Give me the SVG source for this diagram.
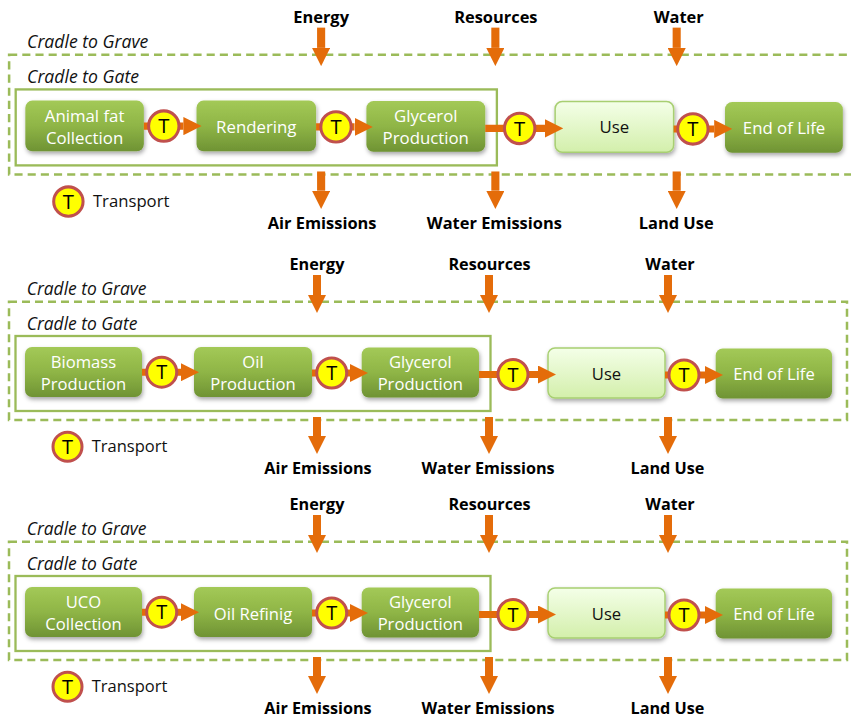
<svg xmlns="http://www.w3.org/2000/svg" width="851" height="719" viewBox="0 0 851 719">
  <defs>
    <linearGradient id="gStep" x1="0" y1="0" x2="0" y2="1">
      <stop offset="0" stop-color="#a3c957"/>
      <stop offset="0.5" stop-color="#8fb546"/>
      <stop offset="1" stop-color="#6f9334"/>
    </linearGradient>
    <linearGradient id="gUse" x1="0" y1="0" x2="0" y2="1">
      <stop offset="0" stop-color="#f4ffe8"/>
      <stop offset="1" stop-color="#d3efab"/>
    </linearGradient>
    <filter id="shadow" x="-10%" y="-15%" width="125%" height="150%">
      <feDropShadow dx="1" dy="2.5" stdDeviation="2" flood-color="#000" flood-opacity="0.35"/>
    </filter>
    <marker id="head" markerUnits="userSpaceOnUse" markerWidth="18" markerHeight="18" refX="0" refY="9" orient="auto" viewBox="0 0 18 18">
      <path d="M0,0 L18,9 L0,18 Z" fill="#e46c0a"/>
    </marker>
  </defs>
  <style>
    text { font-family: "Open Sans", "Noto Sans", "Liberation Sans", sans-serif; }
    .grave { fill: none; stroke: #9bbb59; stroke-width: 2.5; stroke-dasharray: 8 5; }
    .gate { fill: none; stroke: #9bbb59; stroke-width: 2.3; }
    .step { fill: url(#gStep); filter: url(#shadow); }
    .use { fill: url(#gUse); stroke: #a8cf72; stroke-width: 1.5; filter: url(#shadow); }
    .lbl { font-size: 16.6px; fill: #ffffff; text-anchor: middle; }
    .lbl.dark { fill: #111111; }
    .flow { font-size: 16.2px; font-weight: bold; fill: #000000; text-anchor: middle; }
    .scope { font-size: 17.4px; font-style: italic; fill: #111111; }
    .legend { font-size: 16.5px; fill: #111111; }
    .arrow { stroke: #e46c0a; stroke-width: 7; fill: none; marker-end: url(#head); }
    .io { stroke-width: 8; }
    .tc { fill: #ffff00; stroke: #c0504d; stroke-width: 3; }
    .tl { font-size: 20px; fill: #000000; text-anchor: middle; }
  </style>

  <!-- ===== Chain 1: animal fat ===== -->
  <g id="chain-animal-fat" transform="translate(0,2.3) scale(1.013)">
    <g id="scope-1">
      <rect class="grave" x="9" y="51.7" width="838" height="118.3"/>
      <text class="scope" x="26.7" y="45">Cradle to Grave</text>
      <rect class="gate" x="15.5" y="86" width="475" height="75"/>
      <text class="scope" x="26.7" y="80">Cradle to Gate</text>
    </g>
    <g id="flows-1">
      <text class="flow" x="317" y="20">Energy</text>
      <text class="flow" x="489.5" y="20">Resources</text>
      <text class="flow" x="670" y="20">Water</text>
      <line class="arrow io" x1="317" y1="25" x2="317" y2="45"/>
      <line class="arrow io" x1="489" y1="25" x2="489" y2="45"/>
      <line class="arrow io" x1="668" y1="25" x2="668" y2="45"/>
      <line class="arrow io" x1="317" y1="167" x2="317" y2="186"/>
      <line class="arrow io" x1="489" y1="167" x2="489" y2="186"/>
      <line class="arrow io" x1="668" y1="167" x2="668" y2="186"/>
      <text class="flow" x="318" y="224">Air Emissions</text>
      <text class="flow" x="488" y="224">Water Emissions</text>
      <text class="flow" x="667.5" y="224">Land Use</text>
    </g>
    <g id="n1-animal-fat">
      <rect class="step" x="25" y="97" width="117" height="50" rx="7"/>
      <text class="lbl" x="83.5" y="118.3">Animal fat</text>
      <text class="lbl" x="83.5" y="140.3">Collection</text>
    </g>
    <g id="n1-rendering">
      <rect class="step" x="194" y="97" width="118" height="50" rx="7"/>
      <text class="lbl" x="253" y="129.5">Rendering</text>
    </g>
    <g id="n1-glycerol">
      <rect class="step" x="361.7" y="97.5" width="117.3" height="50" rx="7"/>
      <text class="lbl" x="420.3" y="118.3">Glycerol</text>
      <text class="lbl" x="420.3" y="140.3">Production</text>
    </g>
    <g id="n1-use">
      <rect class="use" x="548" y="98" width="117" height="50" rx="7"/>
      <text class="lbl dark" x="606.5" y="129.5">Use</text>
    </g>
    <g id="n1-end-of-life">
      <rect class="step" x="715.7" y="98.5" width="116.3" height="50" rx="7"/>
      <text class="lbl" x="774" y="130">End of Life</text>
    </g>
    <g id="links-1">
      <line class="arrow" x1="142" y1="122.2" x2="181" y2="122.2"/>
      <line class="arrow" x1="312" y1="123" x2="350" y2="123"/>
      <line class="arrow" x1="479" y1="124.5" x2="538" y2="124.5"/>
      <line class="arrow" x1="665" y1="125" x2="705" y2="125"/>
    </g>
    <g id="t1-1"><circle class="tc" cx="161.7" cy="122.2" r="15"/><text class="tl" x="161.7" y="129.2">T</text></g>
    <g id="t1-2"><circle class="tc" cx="331.7" cy="123" r="15"/><text class="tl" x="331.7" y="130">T</text></g>
    <g id="t1-3"><circle class="tc" cx="513" cy="124.5" r="15"/><text class="tl" x="513" y="131.5">T</text></g>
    <g id="t1-4"><circle class="tc" cx="684" cy="125" r="15"/><text class="tl" x="684" y="132">T</text></g>
    <g id="legend-1">
      <circle class="tc" cx="67.5" cy="196.7" r="14.5"/>
      <text class="tl" x="67.5" y="203.7">T</text>
      <text class="legend" x="91.7" y="201.7">Transport</text>
    </g>
  </g>

  <!-- ===== Chain 2: biomass ===== -->
  <g id="chain-biomass" transform="translate(0,250)">
    <g id="scope-2">
      <rect class="grave" x="9" y="51.7" width="838" height="118.3"/>
      <text class="scope" x="26.7" y="45">Cradle to Grave</text>
      <rect class="gate" x="15.5" y="86" width="475" height="75"/>
      <text class="scope" x="26.7" y="80">Cradle to Gate</text>
    </g>
    <g id="flows-2">
      <text class="flow" x="317" y="20">Energy</text>
      <text class="flow" x="489.5" y="20">Resources</text>
      <text class="flow" x="670" y="20">Water</text>
      <line class="arrow io" x1="317" y1="25" x2="317" y2="45"/>
      <line class="arrow io" x1="489" y1="25" x2="489" y2="45"/>
      <line class="arrow io" x1="668" y1="25" x2="668" y2="45"/>
      <line class="arrow io" x1="317" y1="167" x2="317" y2="186"/>
      <line class="arrow io" x1="489" y1="167" x2="489" y2="186"/>
      <line class="arrow io" x1="668" y1="167" x2="668" y2="186"/>
      <text class="flow" x="318" y="224">Air Emissions</text>
      <text class="flow" x="488" y="224">Water Emissions</text>
      <text class="flow" x="667.5" y="224">Land Use</text>
    </g>
    <g id="n2-biomass">
      <rect class="step" x="25" y="97" width="117" height="50" rx="7"/>
      <text class="lbl" x="83.5" y="118.3">Biomass</text>
      <text class="lbl" x="83.5" y="140.3">Production</text>
    </g>
    <g id="n2-oil">
      <rect class="step" x="194" y="97" width="118" height="50" rx="7"/>
      <text class="lbl" x="253" y="118.3">Oil</text>
      <text class="lbl" x="253" y="140.3">Production</text>
    </g>
    <g id="n2-glycerol">
      <rect class="step" x="361.7" y="97.5" width="117.3" height="50" rx="7"/>
      <text class="lbl" x="420.3" y="118.3">Glycerol</text>
      <text class="lbl" x="420.3" y="140.3">Production</text>
    </g>
    <g id="n2-use">
      <rect class="use" x="548" y="98" width="117" height="50" rx="7"/>
      <text class="lbl dark" x="606.5" y="129.5">Use</text>
    </g>
    <g id="n2-end-of-life">
      <rect class="step" x="715.7" y="98.5" width="116.3" height="50" rx="7"/>
      <text class="lbl" x="774" y="130">End of Life</text>
    </g>
    <g id="links-2">
      <line class="arrow" x1="142" y1="122.2" x2="181" y2="122.2"/>
      <line class="arrow" x1="312" y1="123" x2="350" y2="123"/>
      <line class="arrow" x1="479" y1="124.5" x2="538" y2="124.5"/>
      <line class="arrow" x1="665" y1="125" x2="705" y2="125"/>
    </g>
    <g id="t2-1"><circle class="tc" cx="161.7" cy="122.2" r="15"/><text class="tl" x="161.7" y="129.2">T</text></g>
    <g id="t2-2"><circle class="tc" cx="331.7" cy="123" r="15"/><text class="tl" x="331.7" y="130">T</text></g>
    <g id="t2-3"><circle class="tc" cx="513" cy="124.5" r="15"/><text class="tl" x="513" y="131.5">T</text></g>
    <g id="t2-4"><circle class="tc" cx="684" cy="125" r="15"/><text class="tl" x="684" y="132">T</text></g>
    <g id="legend-2">
      <circle class="tc" cx="67.5" cy="196.7" r="14.5"/>
      <text class="tl" x="67.5" y="203.7">T</text>
      <text class="legend" x="91.7" y="201.7">Transport</text>
    </g>
  </g>

  <!-- ===== Chain 3: used cooking oil ===== -->
  <g id="chain-uco" transform="translate(0,490)">
    <g id="scope-3">
      <rect class="grave" x="9" y="51.7" width="838" height="118.3"/>
      <text class="scope" x="26.7" y="45">Cradle to Grave</text>
      <rect class="gate" x="15.5" y="86" width="475" height="75"/>
      <text class="scope" x="26.7" y="80">Cradle to Gate</text>
    </g>
    <g id="flows-3">
      <text class="flow" x="317" y="20">Energy</text>
      <text class="flow" x="489.5" y="20">Resources</text>
      <text class="flow" x="670" y="20">Water</text>
      <line class="arrow io" x1="317" y1="25" x2="317" y2="45"/>
      <line class="arrow io" x1="489" y1="25" x2="489" y2="45"/>
      <line class="arrow io" x1="668" y1="25" x2="668" y2="45"/>
      <line class="arrow io" x1="317" y1="167" x2="317" y2="186"/>
      <line class="arrow io" x1="489" y1="167" x2="489" y2="186"/>
      <line class="arrow io" x1="668" y1="167" x2="668" y2="186"/>
      <text class="flow" x="318" y="224">Air Emissions</text>
      <text class="flow" x="488" y="224">Water Emissions</text>
      <text class="flow" x="667.5" y="224">Land Use</text>
    </g>
    <g id="n3-uco">
      <rect class="step" x="25" y="97" width="117" height="50" rx="7"/>
      <text class="lbl" x="83.5" y="118.3">UCO</text>
      <text class="lbl" x="83.5" y="140.3">Collection</text>
    </g>
    <g id="n3-refining">
      <rect class="step" x="194" y="97" width="118" height="50" rx="7"/>
      <text class="lbl" x="253" y="129.5">Oil Refinig</text>
    </g>
    <g id="n3-glycerol">
      <rect class="step" x="361.7" y="97.5" width="117.3" height="50" rx="7"/>
      <text class="lbl" x="420.3" y="118.3">Glycerol</text>
      <text class="lbl" x="420.3" y="140.3">Production</text>
    </g>
    <g id="n3-use">
      <rect class="use" x="548" y="98" width="117" height="50" rx="7"/>
      <text class="lbl dark" x="606.5" y="129.5">Use</text>
    </g>
    <g id="n3-end-of-life">
      <rect class="step" x="715.7" y="98.5" width="116.3" height="50" rx="7"/>
      <text class="lbl" x="774" y="130">End of Life</text>
    </g>
    <g id="links-3">
      <line class="arrow" x1="142" y1="122.2" x2="181" y2="122.2"/>
      <line class="arrow" x1="312" y1="123" x2="350" y2="123"/>
      <line class="arrow" x1="479" y1="124.5" x2="538" y2="124.5"/>
      <line class="arrow" x1="665" y1="125" x2="705" y2="125"/>
    </g>
    <g id="t3-1"><circle class="tc" cx="161.7" cy="122.2" r="15"/><text class="tl" x="161.7" y="129.2">T</text></g>
    <g id="t3-2"><circle class="tc" cx="331.7" cy="123" r="15"/><text class="tl" x="331.7" y="130">T</text></g>
    <g id="t3-3"><circle class="tc" cx="513" cy="124.5" r="15"/><text class="tl" x="513" y="131.5">T</text></g>
    <g id="t3-4"><circle class="tc" cx="684" cy="125" r="15"/><text class="tl" x="684" y="132">T</text></g>
    <g id="legend-3">
      <circle class="tc" cx="67.5" cy="196.7" r="14.5"/>
      <text class="tl" x="67.5" y="203.7">T</text>
      <text class="legend" x="91.7" y="201.7">Transport</text>
    </g>
  </g>
</svg>
